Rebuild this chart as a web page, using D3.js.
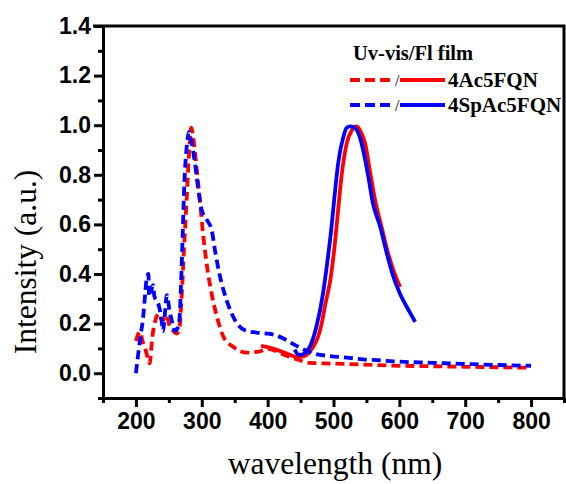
<!DOCTYPE html>
<html>
<head>
<meta charset="utf-8">
<script src="https://cdn.jsdelivr.net/npm/d3@7"></script>
<style>
    body { margin: 0; background: #fff; }
    .tick text { font-family: "Liberation Sans", Arial, sans-serif; font-weight: bold; font-size: 23px; fill: #000; }
    .domain, .tick line { stroke: #000; stroke-width: 3; }
</style>
</head>
<body>
<script>
const width = 566;
const height = 484;

// wavelength (nm) / intensity pairs
const uv4Ac = [[200,0.13],[203,0.155],[206,0.167],[210,0.13],[214,0.10],[218,0.06],[221,0.04],[223,0.09],[225,0.146],[229,0.207],[235,0.24],[240,0.21],[244,0.225],[247,0.234],[250,0.2],[256,0.173],[262,0.16],[266,0.18],[269,0.29],[273,0.50],[277,0.70],[280,0.86],[284,0.99],[288,0.93],[292,0.83],[297,0.70],[302,0.56],[308,0.43],[315,0.32],[323,0.227],[333,0.146],[348,0.106],[368,0.083],[388,0.088],[400,0.098],[410,0.092],[420,0.08],[440,0.06],[464,0.042],[495,0.039],[545,0.035],[585,0.031],[650,0.028],[700,0.026],[750,0.024],[800,0.022]];

const uvSpAc = [[200,0.0],[203.6,0.08],[207,0.15],[211,0.227],[214,0.32],[216,0.375],[219,0.40],[220,0.31],[223,0.33],[226,0.355],[228,0.31],[234,0.28],[239,0.214],[241,0.17],[244,0.24],[247,0.315],[251,0.254],[257,0.187],[259,0.17],[263,0.18],[266,0.214],[268.5,0.36],[271,0.56],[273.5,0.765],[277,0.91],[280.6,0.973],[283,0.95],[289.7,0.845],[294.7,0.74],[300,0.657],[308,0.617],[315,0.577],[320,0.496],[327.7,0.39],[337.8,0.294],[350.4,0.214],[365.6,0.173],[383,0.164],[398.5,0.16],[410,0.155],[424,0.14],[444,0.11],[469,0.08],[495,0.069],[520,0.063],[545,0.056],[571,0.052],[590,0.048],[650,0.042],[700,0.037],[750,0.033],[800,0.03]];

const fl4Ac = [[390,0.11],[400,0.105],[415,0.093],[430,0.078],[444,0.066],[455,0.068],[465,0.09],[470,0.11],[477,0.15],[482,0.2],[487,0.27],[496,0.39],[502,0.52],[507,0.657],[512,0.79],[520,0.926],[528,0.98],[535,0.995],[542,0.97],[548,0.926],[555,0.82],[563,0.70],[573,0.59],[583,0.483],[593,0.40],[601,0.348]];

const flSpAc = [[441,0.095],[447,0.075],[452,0.075],[458,0.085],[464,0.106],[474,0.187],[484,0.32],[491,0.456],[497,0.59],[502,0.725],[507,0.845],[515,0.953],[520,0.99],[525,0.995],[532,0.99],[538,0.966],[545,0.9],[553,0.79],[560,0.684],[571,0.59],[581,0.483],[591,0.388],[601,0.32],[614,0.254],[624,0.207]];

const xMajor = [200, 300, 400, 500, 600, 700, 800];
const xMinor = [150, 250, 350, 450, 550, 650, 750, 850];
const yMajor = [0.0, 0.2, 0.4, 0.6, 0.8, 1.0, 1.2, 1.4];
const yMinor = [-0.1, 0.1, 0.3, 0.5, 0.7, 0.9, 1.1, 1.3];

const legendNames = ["4Ac5FQN", "4SpAc5FQN"];
const legendColors = ["#ff0000", "#0000ff"];

const svg = d3.select("body")
    .append("svg")
    .attr("width", width)
    .attr("height", height);

const xScale = d3.scaleLinear().domain([150, 850]).range([103, 564]);
const yScale = d3.scaleLinear().domain([-0.1, 1.4]).range([398, 26]);

// minor ticks first
svg.append("g")
    .attr("transform", "translate(0,398)")
    .call(d3.axisBottom(xScale).tickValues(xMinor).tickSize(5).tickFormat(""))
    .select(".domain").remove();
svg.append("g")
    .attr("transform", "translate(103,0)")
    .call(d3.axisLeft(yScale).tickValues(yMinor).tickSize(5).tickFormat(""))
    .select(".domain").remove();

svg.append("g")
    .attr("transform", "translate(0,398)")
    .call(d3.axisBottom(xScale).tickValues(xMajor).tickSize(9).tickSizeOuter(0).tickPadding(6));
svg.append("g")
    .attr("transform", "translate(103,0)")
    .call(d3.axisLeft(yScale).tickValues(yMajor).tickSize(9).tickSizeOuter(0).tickPadding(3).tickFormat(d3.format(".1f")));

// top and right frame
svg.append("path")
    .attr("d", `M${xScale(150) - 10},${yScale(1.4)}H${xScale(850)}V${yScale(-0.1)}`)
    .attr("fill", "none")
    .attr("stroke", "#000")
    .attr("stroke-width", 3);

const line = d3.line()
    .x(d => xScale(d[0]))
    .y(d => yScale(d[1]))
    .curve(d3.curveMonotoneX);

const series = [
    {data: uv4Ac, color: legendColors[0], dash: "9,5"},
    {data: fl4Ac, color: legendColors[0], dash: null},
    {data: uvSpAc, color: legendColors[1], dash: "9,5"},
    {data: flSpAc, color: legendColors[1], dash: null}
];

svg.selectAll(".series")
    .data(series)
    .enter()
    .append("path")
    .attr("class", "series")
    .attr("d", d => line(d.data))
    .attr("fill", "none")
    .attr("stroke", d => d.color)
    .attr("stroke-width", 3.8)
    .attr("stroke-dasharray", d => d.dash);

// axis titles
svg.append("text")
    .attr("x", 335)
    .attr("y", 474)
    .attr("text-anchor", "middle")
    .attr("font-family", "Liberation Serif, Times New Roman, serif")
    .attr("font-size", 31.5)
    .text("wavelength (nm)");

svg.append("text")
    .attr("transform", "translate(36,262) rotate(-90)")
    .attr("text-anchor", "middle")
    .attr("font-family", "Liberation Serif, Times New Roman, serif")
    .attr("font-size", 31.5)
    .text("Intensity (a.u.)");

// legend
const legend = svg.append("g")
    .attr("font-family", "Liberation Serif, Times New Roman, serif");

legend.append("text")
    .attr("x", 353)
    .attr("y", 60)
    .attr("font-weight", "bold")
    .attr("font-size", 20.5)
    .text("Uv-vis/Fl film");

legendNames.forEach((name, i) => {
    const ly = 80 + i * 25;
    legend.append("line")
        .attr("x1", 350).attr("x2", 392)
        .attr("y1", ly).attr("y2", ly)
        .attr("stroke", legendColors[i])
        .attr("stroke-width", 3.8)
        .attr("stroke-dasharray", "10,5");
    legend.append("text")
        .attr("x", 395)
        .attr("y", ly + 6)
        .attr("font-size", 16)
        .text("/");
    legend.append("line")
        .attr("x1", 400).attr("x2", 445)
        .attr("y1", ly).attr("y2", ly)
        .attr("stroke", legendColors[i])
        .attr("stroke-width", 3.8);
    legend.append("text")
        .attr("x", 448)
        .attr("y", ly + 7)
        .attr("font-weight", "bold")
        .attr("font-size", 21)
        .text(name);
});
</script>
</body>
</html>
